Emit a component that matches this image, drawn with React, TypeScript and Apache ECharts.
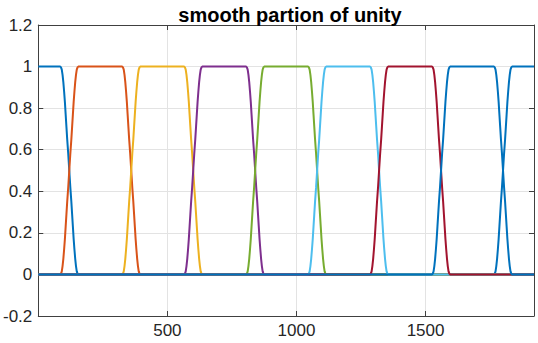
import React, { useEffect, useRef } from "react";
import * as echarts from "echarts";

// transition centres between neighbouring bumps
const transitionCenters = [120, 360, 600, 840, 1080, 1320, 1560, 1800];
// rising ramp profile: offset from centre -> value
const rampOffsets = [-35, -32, -29, -26, -23, -20, -17, -14, -11, -8, -4, 0, 4, 8, 11, 14, 17, 20, 23, 26, 29, 32, 35];
const rampValues = [0, 0.004, 0.015, 0.04, 0.075, 0.12, 0.17, 0.23, 0.29, 0.35, 0.42, 0.5, 0.58, 0.65, 0.71, 0.77, 0.83, 0.88, 0.925, 0.96, 0.985, 0.996, 1];
const xMin = 0;
const xMax = 1920;
const colors = ["#0072BD", "#D95319", "#EDB120", "#7E2F8E", "#77AC30", "#4DBEEE", "#A2142F", "#0072BD"];
const titleText = "smooth partion of unity";

function rise(c: number): number[][] {
  return rampOffsets.map((o, i) => [c + o, rampValues[i]]);
}
function fall(c: number): number[][] {
  return rampOffsets.map((o, i) => [c + o, 1 - rampValues[i]]);
}

function buildCurve(k: number): number[][] {
  const n = transitionCenters.length;
  if (k === 0) {
    return [[xMin, 1], ...fall(transitionCenters[0]), ...rise(transitionCenters[n - 1]), [xMax, 1]];
  }
  return [[xMin, 0], ...rise(transitionCenters[k - 1]), ...fall(transitionCenters[k]), [xMax, 0]];
}

export default function App() {
  const ref = useRef<HTMLDivElement>(null);
  useEffect(() => {
    if (!ref.current) return;
    const chart = echarts.init(ref.current, undefined, { renderer: "svg" });
    const axisColor = "#404040";
    const labelColor = "#262626";
    const gridColor = "#e3e3e3";
    const font = "'Liberation Sans', Arial, Helvetica, sans-serif";
    const series = colors.map((col, k) => ({
      type: "line",
      data: buildCurve(k),
      showSymbol: false,
      symbol: "none",
      lineStyle: { color: col, width: 2 },
      itemStyle: { color: col },
      z: 3,
    }));
    chart.setOption({
      animation: false,
      title: {
        text: titleText,
        left: 285,
        textAlign: "center",
        top: 0,
        textStyle: { fontFamily: font, fontSize: 20, fontWeight: "bold", color: "#000" },
      },
      grid: { left: 37, right: 4, top: 25, bottom: 27, containLabel: false },
      xAxis: [
        {
          type: "value",
          min: xMin,
          max: xMax,
          interval: 500,
          axisLine: { show: true, onZero: false, lineStyle: { color: axisColor, width: 1 } },
          axisTick: { show: true, inside: true, length: 5, lineStyle: { color: axisColor } },
          axisLabel: {
            margin: 6,
            color: labelColor,
            fontSize: 17,
            fontFamily: font,
            formatter: (v: number) => (v === 0 || v % 500 !== 0 ? "" : String(v)),
          },
          splitLine: { show: true, lineStyle: { color: gridColor, width: 1 } },
        },
        {
          type: "value",
          position: "top",
          min: xMin,
          max: xMax,
          interval: 500,
          axisLine: { show: true, onZero: false, lineStyle: { color: axisColor, width: 1 } },
          axisTick: { show: true, inside: true, length: 5, lineStyle: { color: axisColor } },
          axisLabel: { show: false },
          splitLine: { show: false },
        },
      ],
      yAxis: [
        {
          type: "value",
          min: -0.2,
          max: 1.2,
          interval: 0.2,
          axisLine: { show: true, onZero: false, lineStyle: { color: axisColor, width: 1 } },
          axisTick: { show: true, inside: true, length: 5, lineStyle: { color: axisColor } },
          axisLabel: {
            margin: 6,
            color: labelColor,
            fontSize: 17,
            fontFamily: font,
            formatter: (v: number) => String(Math.round(v * 10) / 10),
          },
          splitLine: { show: true, lineStyle: { color: gridColor, width: 1 } },
        },
        {
          type: "value",
          position: "right",
          min: -0.2,
          max: 1.2,
          interval: 0.2,
          axisLine: { show: true, onZero: false, lineStyle: { color: axisColor, width: 1 } },
          axisTick: { show: true, inside: true, length: 5, lineStyle: { color: axisColor } },
          axisLabel: { show: false },
          splitLine: { show: false },
        },
      ],
      series,
    });
    return () => chart.dispose();
  }, []);
  return <div ref={ref} style={{ width: 538, height: 343, position: "absolute", left: 0, top: 0 }} />;
}
